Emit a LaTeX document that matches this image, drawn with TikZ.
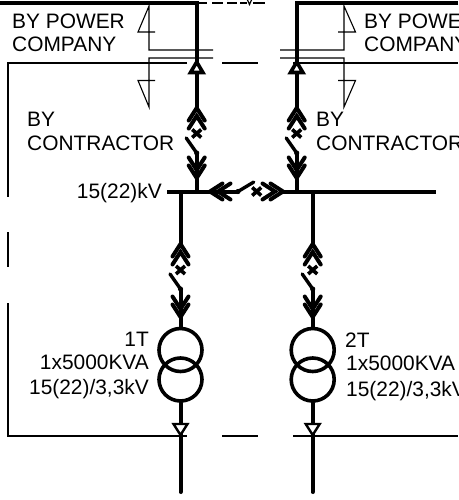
\documentclass[tikz,border=0pt]{standalone}
\usepackage{fontspec}
\setmainfont{Liberation Sans}
\tikzset{
  thick line/.style={line width=4pt,black},
  frame line/.style={line width=1.5pt,black},
  thin line/.style={line width=1.1pt,black},
  lbl/.style={inner sep=0pt,anchor=base west,font=\fontsize{20.9}{24}\selectfont,text=black},
  lblr/.style={lbl,anchor=base east},
  coil/.style={circle,draw=black,line width=3.6pt,minimum size=43pt,inner sep=0pt},
  chev/.pic={
    \draw[line width=4pt,line cap=round,line join=miter] (-8,12.5) -- (0,0) -- (8,12.5);
    \draw[line width=4pt,line cap=round,line join=miter] (-8,20.5) -- (0,8) -- (8,20.5);
  },
  xmark/.pic={
    \draw[line width=3.6pt] (-4.5,-4) -- (4.5,4) (-4.5,4) -- (4.5,-4);
  },
  blade/.pic={
    \draw[line width=3.4pt,line cap=round] (0,0) -- (-10.5,-15);
    \fill (0,0) circle (2.6);
  },
  opentri/.pic={
    \draw[line width=3.6pt,fill=white,line join=miter] (0,0) -- (-6.2,10.5) -- (6.2,10.5) -- cycle;
  },
  lowtri/.pic={
    \draw[line width=2.4pt,fill=white,line join=miter] (0,0) -- (-7,-11) -- (7,-11) -- cycle;
  },
}
\begin{document}
\begin{tikzpicture}[x=1pt,y=-1pt]
\useasboundingbox (0,0) rectangle (458,500);
\clip (0,0) rectangle (458,500);

% frame (dashed boundary drawn in segments)
\coordinate (fA) at (187,63);
\coordinate (fB) at (8,63);
\coordinate (fC) at (8,197);
\draw[frame line] (fA) -- (fB) -- (fC);
\draw[frame line] (222,63) -- (258,63);
\draw[frame line] (293,63) -- (458,63);
\draw[frame line] (8,232) -- (8,267);
\draw[frame line] (8,303) -- (8,436) -- (187,436);
\draw[frame line] (222,436) -- (258,436);
\draw[frame line] (293,436) -- (458,436);

% top dashes
\draw[frame line] (198,3) -- (207,3) (212,3) -- (223,3) (227,3) -- (237,3) (240,3) -- (247,3) (253,3) -- (265,3);
\draw[line width=1.2pt] (247.5,0) -- (249.5,4.5) -- (251.5,0);

% thin disconnect marks
\draw[thin line] (213,50) -- (149,50) -- (149,6) -- (138,32) -- (155,32);
\draw[thin line] (213,58) -- (149,58) -- (149,107) -- (138,80.5) -- (155,80.5);
\draw[thin line] (280,50) -- (344,50) -- (344,6) -- (355.5,32) -- (338,32);
\draw[thin line] (280,58) -- (344,58) -- (344,107) -- (355.5,80.5) -- (338,80.5);

% incoming feeders
\coordinate (inL) at (0,3);
\coordinate (cL) at (196.7,3);
\coordinate (cR) at (296.7,3);
\coordinate (inR) at (458,3);
\coordinate (aL) at (196.7,108);
\coordinate (aR) at (296.7,108);
\coordinate (dL) at (196.7,153);
\coordinate (dR) at (296.7,153);
\coordinate (busW) at (167,191.5);
\coordinate (busE) at (436,191.5);
\coordinate (jL) at (196.7,191.5);
\coordinate (jR) at (296.7,191.5);
\draw[thick line,line join=miter] (inL) -- (cL) -- (aL);
\draw[thick line,line join=miter] (inR) -- (cR) -- (aR);
\draw[thick line] (dL) -- (jL);
\draw[thick line] (dR) -- (jR);

% bus with tie
\coordinate (tieA) at (210,191.5);
\coordinate (tieB) at (238,191.5);
\coordinate (tieC) at (283,191.5);
\draw[thick line] (busW) -- (tieA);
\draw[thick line] (tieB) -- (tieA);
\draw[thick line] (tieC) -- (busE);
\pic[rotate=90] at (tieA) {chev};
\pic[rotate=-90] at (tieC) {chev};
\pic[rotate=-94] at (tieB) {blade};
\pic at (256.7,191.5) {xmark};

% incomer symbols
\foreach \xx in {196.7,296.7}{
  \pic at (\xx,62) {opentri};
  \pic at (\xx,108) {chev};
  \pic at (\xx,133.5) {xmark};
  \pic at (\xx,153) {blade};
  \pic[rotate=180] at (\xx,178) {chev};
}

% transformers
\node[coil] (t1a) at (180.5,350) {};
\node[coil] (t1b) at (180.5,379.5) {};
\node[coil] (t2a) at (312.7,350) {};
\node[coil] (t2b) at (312.7,379.5) {};
\coordinate (b1) at (180.5,191.5);
\coordinate (b2) at (312.7,191.5);
\coordinate (a1) at (180.5,244);
\coordinate (a2) at (312.7,244);
\coordinate (d1) at (180.5,289);
\coordinate (d2) at (312.7,289);
\coordinate (e1) at (180.5,492);
\coordinate (e2) at (312.7,492);
\draw[thick line] (b1) -- (a1);
\draw[thick line] (b2) -- (a2);
\draw[thick line] (d1) -- (t1a.north);
\draw[thick line] (d2) -- (t2a.north);
\draw[thick line,line cap=round] (t1b.south) -- (e1);
\draw[thick line,line cap=round] (t2b.south) -- (e2);
\foreach \xx in {180.5,312.7}{
  \pic at (\xx,244) {chev};
  \pic at (\xx,270) {xmark};
  \pic at (\xx,289) {blade};
  \pic[rotate=180] at (\xx,317) {chev};
  \pic at (\xx,435) {lowtri};
}

% labels
\node[lbl] (lpc1) at (12,29) {BY POWER};
\node[lbl] (lpc2) at (12,51.5) {COMPANY};
\node[lbl] (rpc1) at (364,29) {BY POWER};
\node[lbl] (rpc2) at (364,51.5) {COMPANY};
\node[lbl] (lc1) at (27,127) {BY};
\node[lbl] (lc2) at (27,150) {CONTRACTOR};
\node[lbl] (rc1) at (316,127) {BY};
\node[lbl] (rc2) at (316,150) {CONTRACTOR};
\node[lblr] (kv) at (162,198) {15(22)kV};
\node[lblr] (t1n) at (149,346) {1T};
\node[lblr] (t1p) at (149,369.5) {1x5000KVA};
\node[lblr] (t1v) at (149,394) {15(22)/3,3kV};
\node[lbl] (t2n) at (345,347) {2T};
\node[lbl] (t2p) at (346,370.5) {1x5000KVA};
\node[lbl] (t2v) at (346,396) {15(22)/3,3kV};
\end{tikzpicture}
\end{document}
